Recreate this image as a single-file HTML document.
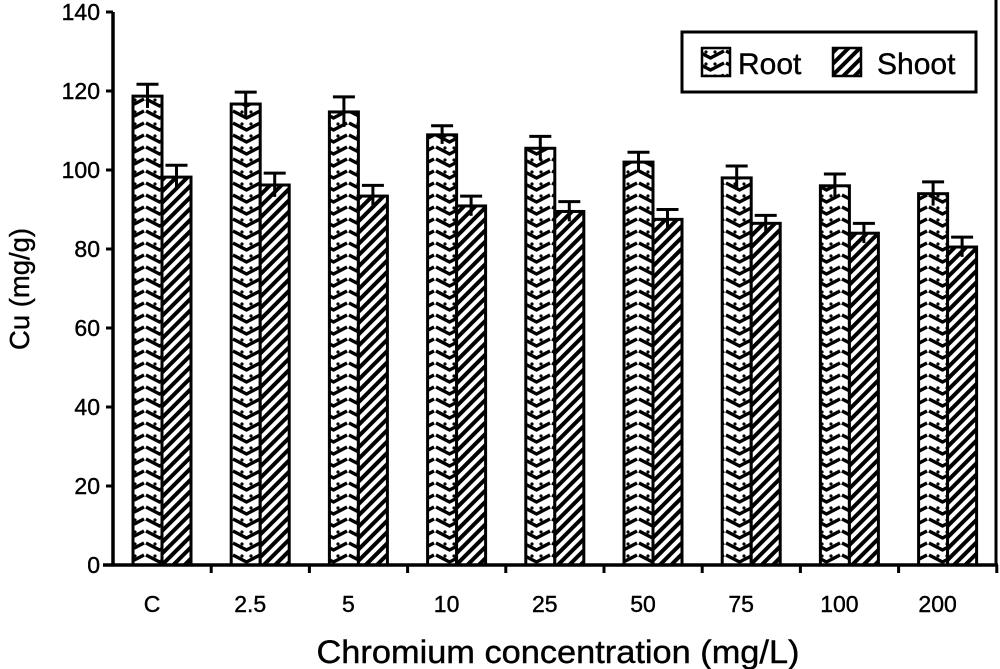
<!DOCTYPE html>
<html><head><style>body{margin:0;background:#fff}svg{display:block}text{font-family:"Liberation Sans",Arial,sans-serif;fill:#000}</style></head><body>
<svg width="1000" height="669" xmlns="http://www.w3.org/2000/svg">
<defs>
<pattern id="chev" x="0" y="0" width="29" height="12" patternUnits="userSpaceOnUse">
<rect width="29" height="12" fill="#fff"/>
<path d="M1 3 L14.5 10 L28 3" fill="none" stroke="#000" stroke-width="3.4"/>
<circle cx="10" cy="4" r="1.6" fill="#000"/><circle cx="19" cy="4" r="1.6" fill="#000"/>
</pattern>
<pattern id="diag" width="8" height="8" patternUnits="userSpaceOnUse" patternTransform="rotate(45)">
<rect width="8" height="8" fill="#fff"/>
<rect x="0" y="0" width="4" height="8" fill="#000"/>
</pattern>
</defs>
<g id="bars"></g>
<line x1="113" y1="12" x2="113" y2="566" stroke="#000" stroke-width="3.5"/>
<line x1="103" y1="565" x2="998" y2="565" stroke="#000" stroke-width="3.5"/>
<line x1="996" y1="0" x2="996" y2="566" stroke="#000" stroke-width="3"/>
<g stroke="#000" stroke-width="3">
<line x1="106" y1="12" x2="113" y2="12"/><line x1="106" y1="91" x2="113" y2="91"/><line x1="106" y1="170" x2="113" y2="170"/><line x1="106" y1="249" x2="113" y2="249"/><line x1="106" y1="328" x2="113" y2="328"/><line x1="106" y1="407" x2="113" y2="407"/><line x1="106" y1="486" x2="113" y2="486"/>
</g>
<g font-size="23" text-anchor="end" stroke="#000" stroke-width="0.4">
<text x="100" y="20">140</text><text x="100" y="99">120</text><text x="100" y="178">100</text><text x="100" y="257">80</text><text x="100" y="336">60</text><text x="100" y="415">40</text><text x="100" y="494">20</text><text x="100" y="573">0</text>
</g>
<text transform="translate(29,289) rotate(-90)" font-size="28" text-anchor="middle" textLength="122" lengthAdjust="spacingAndGlyphs" stroke="#000" stroke-width="0.4">Cu (mg/g)</text>
<g font-size="23" text-anchor="middle" id="xl" stroke="#000" stroke-width="0.4"></g>
<text x="558" y="663" font-size="32" text-anchor="middle" textLength="483" lengthAdjust="spacingAndGlyphs" stroke="#000" stroke-width="0.4">Chromium concentration (mg/L)</text>
<rect x="682" y="32" width="294" height="60" fill="#fff" stroke="#000" stroke-width="3"/>
<rect x="702" y="48" width="28" height="28" fill="url(#chev)" stroke="#000" stroke-width="2.5"/>
<text x="738" y="74" font-size="30" stroke="#000" stroke-width="0.4">Root</text>
<rect x="833" y="48" width="28" height="28" fill="url(#diag)" stroke="#000" stroke-width="2.5"/>
<text x="877" y="74" font-size="30" stroke="#000" stroke-width="0.4">Shoot</text>
<script>
var labs=["C","2.5","5","10","25","50","75","100","200"];
var r=[[118.7,3],[116.7,3],[114.7,3.8],[108.9,2.3],[105.5,3],[102,2.5],[98,3],[96,3],[94,3]];
var s=[[98.2,3],[96.2,3],[93.4,2.7],[90.9,2.5],[89.5,2.5],[87.5,2.5],[86.5,2],[84,2.5],[80.5,2.5]];
var ns="http://www.w3.org/2000/svg",g=document.getElementById("bars"),xl=document.getElementById("xl");
function y(v){return 565-v*3.95;}
function el(t,a,p){var e=document.createElementNS(ns,t);for(var k in a)e.setAttribute(k,a[k]);(p||g).appendChild(e);return e;}
for(var i=0;i<9;i++){
 var c=162+i*98.2;
 [[r[i],c-29,"url(#chev)"],[s[i],c,"url(#diag)"]].forEach(function(b){
  var v=b[0][0],e=b[0][1],x=b[1];
  el("rect",{x:x,y:y(v),width:29,height:565-y(v),fill:b[2],stroke:"#000","stroke-width":3});
  var m=x+14.5;
  el("line",{x1:m,y1:y(v+e),x2:m,y2:y(v-e),stroke:"#000","stroke-width":3});
  el("line",{x1:m-11,y1:y(v+e),x2:m+11,y2:y(v+e),stroke:"#000","stroke-width":3});
 });
 var t=el("text",{x:c-10,y:612},xl);t.textContent=labs[i];
 el("line",{x1:113+i*98.2+98.2,y1:565,x2:113+i*98.2+98.2,y2:573,stroke:"#000","stroke-width":3});
}
</script>
</svg>
</body></html>
